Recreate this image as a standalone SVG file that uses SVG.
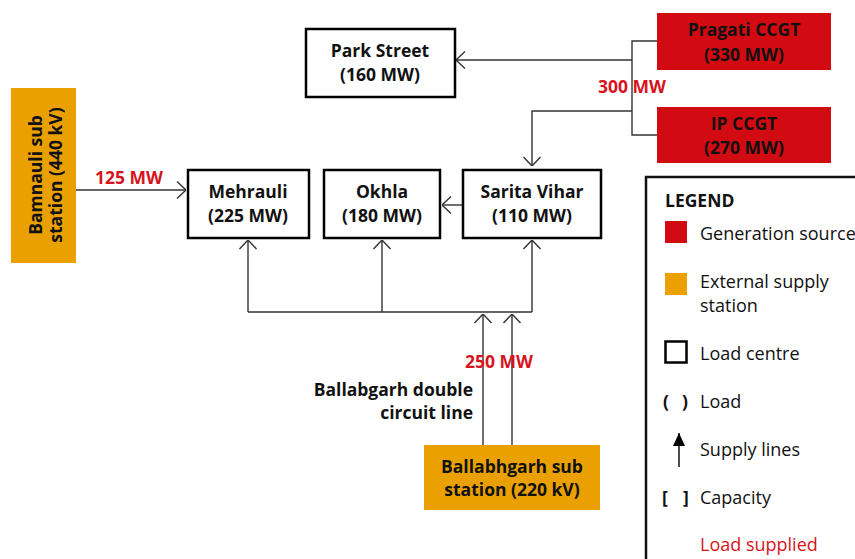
<svg xmlns="http://www.w3.org/2000/svg" width="855" height="559" viewBox="0 0 855 559">
<style>
.box{fill:#fff;stroke:#000;stroke-width:2.5}
.gen{fill:#D20A11}
.ext{fill:#E9A000}
.t{font-family:"Open Sans","Noto Sans",sans-serif;font-weight:bold;font-size:17.5px;fill:#111;text-anchor:middle}
.lbl{font-family:"Open Sans","Noto Sans",sans-serif;font-weight:bold;font-size:17.5px;fill:#D7141E;text-anchor:middle}
.lg{font-family:"Open Sans","Noto Sans",sans-serif;font-size:18px;fill:#111}
.ln{fill:none;stroke:#333;stroke-width:1.4}
</style>
<defs>
<marker id="ah" viewBox="0 0 10 20" refX="10" refY="10" markerWidth="10" markerHeight="20" markerUnits="userSpaceOnUse" orient="auto">
<polyline points="1,1.5 10,10 1,18.5" fill="none" stroke="#333" stroke-width="1.4"/>
</marker>
<marker id="af" viewBox="0 0 13 12" refX="13" refY="6" markerWidth="13" markerHeight="12" markerUnits="userSpaceOnUse" orient="auto">
<polygon points="0,0 13,6 0,12" fill="#000"/>
</marker>
</defs>
<g id="connectors">
<path class="ln" d="M657,41 H632 V135 H657"/>
<path class="ln" d="M632,60 H456" marker-end="url(#ah)"/>
<path class="ln" d="M632,111 H532 V166" marker-end="url(#ah)"/>
<path class="ln" d="M76,190 H186" marker-end="url(#ah)"/>
<path class="ln" d="M463,205 H442" marker-end="url(#ah)"/>
<path class="ln" d="M248,312 H532"/>
<path class="ln" d="M248,312 V240" marker-end="url(#ah)"/>
<path class="ln" d="M382,312 V240" marker-end="url(#ah)"/>
<path class="ln" d="M532,312 V240" marker-end="url(#ah)"/>
<path class="ln" d="M483,445 V314" marker-end="url(#ah)"/>
<path class="ln" d="M512,445 V314" marker-end="url(#ah)"/>
<text class="lbl" x="632" y="93">300 MW</text>
<text class="lbl" x="129" y="184">125 MW</text>
<text class="lbl" x="499" y="368">250 MW</text>
<text class="t" x="473" y="396" style="text-anchor:end">Ballabgarh double</text>
<text class="t" x="473" y="419" style="text-anchor:end">circuit line</text>
</g>
<g id="park-street">
<rect class="box" x="306" y="29" width="149" height="68"/>
<text class="t" x="380" y="57">Park Street</text>
<text class="t" x="380" y="81">(160 MW)</text>
</g>
<g id="pragati">
<rect class="gen" x="657" y="13" width="174" height="57"/>
<text class="t" x="744" y="36">Pragati CCGT</text>
<text class="t" x="744" y="61">(330 MW)</text>
</g>
<g id="ip-ccgt">
<rect class="gen" x="657" y="107" width="174" height="56"/>
<text class="t" x="744" y="130">IP CCGT</text>
<text class="t" x="744" y="154">(270 MW)</text>
</g>
<g id="bamnauli">
<rect class="ext" x="11" y="88" width="65" height="175"/>
<text class="t" transform="translate(42,175) rotate(-90)">Bamnauli sub</text>
<text class="t" transform="translate(62,175) rotate(-90)">station (440 kV)</text>
</g>
<g id="mehrauli">
<rect class="box" x="188" y="170" width="121" height="68"/>
<text class="t" x="248" y="198">Mehrauli</text>
<text class="t" x="248" y="222">(225 MW)</text>
</g>
<g id="okhla">
<rect class="box" x="324" y="170" width="116" height="68"/>
<text class="t" x="382" y="198">Okhla</text>
<text class="t" x="382" y="222">(180 MW)</text>
</g>
<g id="sarita-vihar">
<rect class="box" x="463" y="170" width="138" height="68"/>
<text class="t" x="532" y="198">Sarita Vihar</text>
<text class="t" x="532" y="222">(110 MW)</text>
</g>
<g id="ballabhgarh">
<rect class="ext" x="424" y="445" width="176" height="65"/>
<text class="t" x="512" y="473">Ballabhgarh sub</text>
<text class="t" x="512" y="496">station (220 kV)</text>
</g>
<g id="legend">
<rect x="646" y="177" width="220" height="400" fill="#fff" stroke="#111" stroke-width="2.5"/>
<text class="t" x="665" y="207" style="text-anchor:start">LEGEND</text>
<rect class="gen" x="665" y="221" width="22" height="22"/>
<text class="lg" x="700" y="240">Generation source</text>
<rect class="ext" x="665" y="273" width="22" height="22"/>
<text class="lg" x="700" y="288">External supply</text>
<text class="lg" x="700" y="312">station</text>
<rect x="665.5" y="341.5" width="21" height="21" fill="#fff" stroke="#000" stroke-width="2.5"/>
<text class="lg" x="700" y="360">Load centre</text>
<text class="t" x="663" y="408" style="text-anchor:start">(</text>
<text class="t" x="682" y="408" style="text-anchor:start">)</text>
<text class="lg" x="700" y="408">Load</text>
<path d="M679,467 V433" stroke="#000" stroke-width="1.4" marker-end="url(#af)"/>
<text class="lg" x="700" y="456">Supply lines</text>
<text class="t" x="662" y="504" style="text-anchor:start">[</text>
<text class="t" x="683" y="504" style="text-anchor:start">]</text>
<text class="lg" x="700" y="504">Capacity</text>
<text class="lg" x="700" y="551" style="fill:#D7141E">Load supplied</text>
</g>
</svg>
